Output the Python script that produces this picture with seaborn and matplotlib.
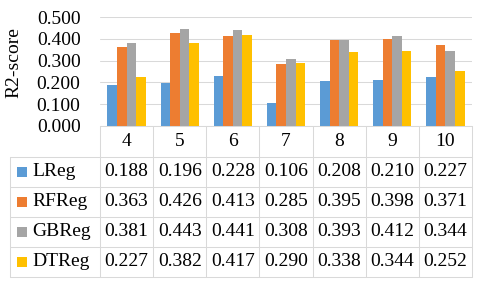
import pandas as pd
import matplotlib
matplotlib.use("Agg")
import matplotlib.pyplot as plt
import seaborn as sns
from matplotlib.patches import Rectangle

categories = ["4", "5", "6", "7", "8", "9", "10"]
models = ["LReg", "RFReg", "GBReg", "DTReg"]
lreg = [0.188, 0.196, 0.228, 0.106, 0.208, 0.210, 0.227]
rfreg = [0.363, 0.426, 0.413, 0.285, 0.395, 0.398, 0.371]
gbreg = [0.381, 0.443, 0.441, 0.308, 0.393, 0.412, 0.344]
dtreg = [0.227, 0.382, 0.417, 0.290, 0.338, 0.344, 0.252]
yticks = [0.0, 0.1, 0.2, 0.3, 0.4, 0.5]

colors = ["#5B9BD5", "#ED7D31", "#A5A5A5", "#FFC000"]
grid_c = "#D9D9D9"
txt_c = "#000000"
fs = 14

sns.set_theme(style="white")
plt.rcParams["font.family"] = ["Liberation Serif", "DejaVu Serif"]

series = dict(zip(models, [lreg, rfreg, gbreg, dtreg]))
df = pd.DataFrame(series, index=categories).reset_index(names="k")
long = df.melt(id_vars="k", var_name="model", value_name="r2")

W, H = 480, 289
fig = plt.figure(figsize=(W / 100, H / 100), dpi=100)

# bar chart
ax = fig.add_axes([100 / W, 1 - 126 / H, 372 / W, 109 / H])
sns.barplot(data=long, x="k", y="r2", hue="model", order=categories,
            hue_order=models, palette=colors, width=0.72, linewidth=0,
            saturation=1, legend=False, ax=ax)
ax.set_xlim(-0.5, len(categories) - 0.5)
ax.set_ylim(0, 0.5)
ax.set_yticks(yticks)
ax.set_yticklabels([f"{v:.3f}" for v in yticks])
ax.set_xticks([])
ax.set_xlabel("")
ax.tick_params(axis="y", length=0, pad=14, labelsize=fs, labelcolor=txt_c)
ax.grid(axis="y", color=grid_c, lw=0.75)
ax.set_axisbelow(True)
for s in ax.spines.values():
    s.set_visible(False)
ax.set_ylabel("R2-score", fontsize=fs, color=txt_c)
ax.yaxis.set_label_coords(-0.232, 0.58)
ax.yaxis.label.set_va("center")

# data table under the chart
n = len(categories)
px = n / 372.0  # x units per pixel
xl = -0.5 - 90 * px
tab = fig.add_axes([10 / W, 1 - 277 / H, 462 / W, 151 / H])
tab.set_xlim(xl, n - 0.5)
tab.set_ylim(151, 0)
tab.axis("off")

row_edges = [0, 31, 61, 91, 121, 151]
lw = 0.75
tab.plot([-0.5, n - 0.5], [0, 0], color=grid_c, lw=lw, clip_on=False)
for y in row_edges[1:]:
    tab.plot([xl, n - 0.5], [y, y], color=grid_c, lw=lw, clip_on=False)
for i in range(n + 1):
    tab.plot([i - 0.5, i - 0.5], [0, 151], color=grid_c, lw=lw, clip_on=False)
tab.plot([xl, xl], [31, 151], color=grid_c, lw=lw, clip_on=False)

for i, c in enumerate(categories):
    tab.text(i, 16, c, ha="center", va="center", fontsize=fs, color=txt_c)

for r, m in enumerate(models):
    yc = (row_edges[r + 1] + row_edges[r + 2]) / 2
    tab.add_patch(Rectangle((xl + 7 * px, yc - 5), 10 * px, 10,
                            color=colors[r], lw=0, clip_on=False))
    tab.text(xl + 22 * px, yc, m, ha="left", va="center", fontsize=fs, color=txt_c)
    for i, v in enumerate(series[m]):
        tab.text(i, yc, f"{v:.3f}", ha="center", va="center", fontsize=fs, color=txt_c)

fig.savefig("out.png", dpi=100)
